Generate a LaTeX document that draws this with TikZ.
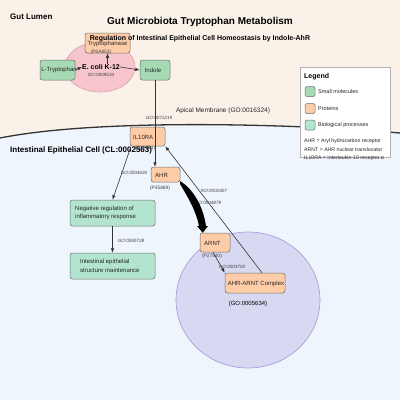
\documentclass[tikz,border=0pt]{standalone}
\usepackage{fontspec}
\setmainfont{Liberation Sans}
\usetikzlibrary{arrows.meta,shapes.geometric}
\definecolor{lumen}{HTML}{FAF2E8}
\definecolor{cell}{HTML}{EFF5FD}
\definecolor{smol}{HTML}{A6DAB4}
\definecolor{prot}{HTML}{FFCCA8}
\definecolor{bioproc}{HTML}{B3E4CF}
\definecolor{ecolifill}{HTML}{F6C6CC}
\definecolor{ecoliline}{HTML}{D9A0A8}
\definecolor{nucfill}{HTML}{D8D8F2}
\definecolor{nucline}{HTML}{9A9AD8}
\definecolor{edge}{HTML}{333333}
\definecolor{boxline}{HTML}{6E6E6E}
\tikzset{
  fs/.style={font=\fontsize{#1}{#1}\selectfont},
  boxbase/.style={draw=boxline, line width=0.5pt, rounded corners=2.5pt, inner sep=0pt},
  smolbox/.style={boxbase, fill=smol},
  protbox/.style={boxbase, fill=prot},
  procbox/.style={boxbase, fill=bioproc},
  conn/.style={draw=edge, line width=0.6pt, -{Latex[length=4.5pt,width=3.5pt]}},
  golabel/.style={fs=4.6, font=\itshape\fontsize{4.6}{4.6}\selectfont, text=black!75, inner sep=0pt},
  idlabel/.style={fs=4.8, text=black!75, inner sep=0pt},
  boxtext/.style={fs=6, inner sep=0pt, text=black!85},
  legtext/.style={fs=5.5, inner sep=0pt, anchor=west, text=black!85},
}
\begin{document}
\begin{tikzpicture}[x=1pt,y=-1pt]
\useasboundingbox (0,0) rectangle (400,400);
% background regions
\fill[lumen] (0,0) rectangle (400,400);
\fill[cell] (0,138) .. controls (100,118) and (300,124) .. (400,133) -- (400,400) -- (0,400) -- cycle;
\draw[edge, line width=1.3pt] (0,138) .. controls (100,118) and (300,124) .. (400,133);

% region labels
\node[fs=8, font=\bfseries\fontsize{8}{8}\selectfont, anchor=west, inner sep=0pt] (lumenlbl) at (10,17) {Gut Lumen};
\node[fs=6.5, anchor=center, inner sep=0pt, text=black!85] (apical) at (223,111) {Apical Membrane (GO:0016324)};

% E. coli compartment
\node[ellipse, draw=ecoliline, fill=ecolifill, line width=0.6pt, minimum width=70pt, minimum height=50pt] (ecoli) at (100,67) {};
\node[font=\bfseries\fontsize{7}{7}\selectfont, inner sep=0pt] (ecolilbl) at (101,67) {E. coli K-12};
\node[golabel, font=\fontsize{4.6}{4.6}\selectfont] (ecoligo) at (101,75) {GO:0009534};

% nucleus
\node[ellipse, draw=nucline, fill=nucfill, line width=0.6pt, minimum width=144pt, minimum height=136pt] (nucleus) at (248,300) {};
\node[fs=6, inner sep=0pt] (nucgo) at (248,304) {(GO:0005634)};

% Tryptophanase
\node[protbox, minimum width=45pt, minimum height=20pt] (tryp) at (107.5,43) {};
\node[boxtext] (tryptxt) at (107.5,44) {Tryptophanase};
\node[idlabel] (trypid) at (101,52) {(P0A853)};

% Title and subtitle
\node[font=\bfseries\fontsize{10}{10}\selectfont, inner sep=0pt] (title) at (200,22) {Gut Microbiota Tryptophan Metabolism};
\node[font=\bfseries\fontsize{7}{7}\selectfont, inner sep=0pt] (subtitle) at (200,39) {Regulation of Intestinal Epithelial Cell Homeostasis by Indole-AhR};

% small molecules
\node[smolbox, minimum width=35pt, minimum height=20pt] (ltrp) at (57.5,70) {};
\node[boxtext] (ltrptxt) at (59,70) {L-Tryptophan};
\node[smolbox, minimum width=30pt, minimum height=20pt] (indole) at (155,70) {};
\node[boxtext] (indoletxt) at (153,70) {Indole};

% proteins
\node[protbox, minimum width=35pt, minimum height=19pt] (il10ra) at (147.5,136.5) {};
\node[boxtext, anchor=west] (il10ratxt) at (133,137) {IL10RA};
\node[idlabel] (il10raid) at (145,148) {(Q13651)};

\node[protbox, minimum width=29pt, minimum height=15pt] (ahr) at (165.5,174.5) {};
\node[boxtext, anchor=west] (ahrtxt) at (155,175) {AHR};
\node[idlabel] (ahrid) at (160,188) {(P35869)};

\node[protbox, minimum width=30pt, minimum height=19pt] (arnt) at (215,242.5) {};
\node[boxtext, anchor=west] (arnttxt) at (204,243) {ARNT};
\node[idlabel] (arntid) at (212,256) {(P27540)};

\node[protbox, minimum width=60pt, minimum height=20pt] (complex) at (255,283) {};
\node[boxtext] (complextxt) at (256,284) {AHR-ARNT Complex};

% biological processes
\node[procbox, minimum width=85pt, minimum height=26pt] (negreg) at (112.5,213) {};
\node[boxtext, anchor=west, align=left, font=\fontsize{6}{8.5}\selectfont] (negregtxt) at (75,213) {Negative regulation of\\inflammatory response};
\node[procbox, minimum width=85pt, minimum height=26pt] (maint) at (112.5,266) {};
\node[boxtext, anchor=west, align=left, font=\fontsize{6}{8.5}\selectfont] (mainttxt) at (80,266) {Intestinal epithelial\\structure maintenance};

\node[fs=8, font=\bfseries\fontsize{8}{8}\selectfont, anchor=west, inner sep=0pt] (celllbl) at (10,150) {Intestinal Epithelial Cell (CL:0002563)};

% edge labels
\node[golabel] (g1) at (159,118) {GO:0071219};
\node[golabel] (g2) at (134,173) {GO:0004920};
\node[golabel] (g3) at (214,191) {RO:0002407};
\node[golabel] (g4) at (208,203) {GO:0004879};
\node[golabel] (g5) at (131,241) {GO:0050728};
\node[golabel] (g6) at (232,267) {GO:0003700};

% connectors
\coordinate (ltrpE) at (ltrp.east);
\draw[conn] (ltrp.east) -- (ecolilbl.west);
\draw[conn] (ecolilbl.east) -- (indole.west);
\draw[conn] (ecolilbl.north -| tryp.south) ++(0,0) -- (tryp.south);
\draw[conn] (indole.south) -- (ahr.north -| indole.south);
\draw[conn] (il10ra.south west) ++(1,1) -- (negreg.north);
\draw[conn] (negreg.south) -- (maint.north);
\draw[conn] (complex.north) ++(7,0) -- (il10ra.south east);
\draw[conn] (arnt.south) ++(-2,0) -- (complex.north west);

% thick tapered AHR -> ARNT connector
\coordinate (wstart) at (ahr.south east);
\coordinate (wtip) at (arnt.north west);
\fill[black] (180,181) .. controls (192,188) and (203,205) .. (206,226)
  -- (208,226) -- ([xshift=3pt]wtip) -- (197,226) -- (199,226)
  .. controls (196,210) and (186,194) .. (180,184) -- cycle;

% legend
\node[draw=black!30, fill=white, line width=0.6pt, minimum width=90pt, minimum height=90pt, inner sep=0pt] (legend) at (345,112) {};
\node[font=\bfseries\fontsize{7}{7}\selectfont, anchor=west, inner sep=0pt] (legtitle) at (304,77) {Legend};
\node[smolbox, minimum width=10pt, minimum height=10pt, rounded corners=2pt] (lsq1) at (310,91.5) {};
\node[legtext] (lt1) at (318,91.5) {Small molecules};
\node[protbox, minimum width=10pt, minimum height=10pt, rounded corners=2pt] (lsq2) at (310,108.5) {};
\node[legtext] (lt2) at (318,108.5) {Proteins};
\node[procbox, minimum width=10pt, minimum height=10pt, rounded corners=2pt] (lsq3) at (310,125) {};
\node[legtext] (lt3) at (318,125) {Biological processes};
\node[legtext, font=\fontsize{5.2}{5.2}\selectfont] (ab1) at (304,141) {AHR = Aryl hydrocarbon receptor};
\node[legtext, font=\fontsize{5.2}{5.2}\selectfont] (ab2) at (304,150) {ARNT = AHR nuclear translocator};
\node[legtext, font=\fontsize{5.2}{5.2}\selectfont] (ab3) at (304,158.5) {IL10RA = Interleukin-10 receptor α};
\end{tikzpicture}
\end{document}
